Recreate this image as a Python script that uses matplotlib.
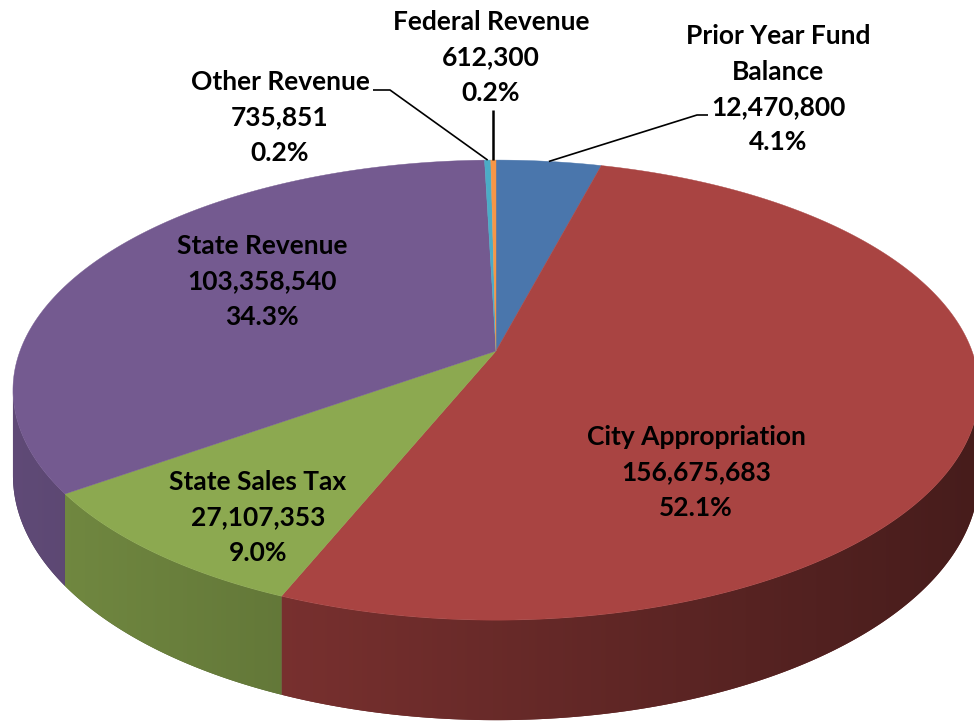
import numpy as np
import matplotlib
matplotlib.use("Agg")
import matplotlib.pyplot as plt
from matplotlib.patches import Polygon
from matplotlib import colors as mcolors

# ---------------- data ----------------
categories = ["Prior Year Fund Balance", "City Appropriation", "State Sales Tax",
              "State Revenue", "Other Revenue", "Federal Revenue"]
label_lines = [["Prior Year Fund", "Balance"], ["City Appropriation"], ["State Sales Tax"],
               ["State Revenue"], ["Other Revenue"], ["Federal Revenue"]]
values = [12470800, 156675683, 27107353, 103358540, 735851, 612300]
top_colors = ["#4A76AC", "#A94442", "#8CA950", "#745A90", "#4BACC6", "#F79646"]

# ---------------- layout ----------------
W, H = 974, 726
fig = plt.figure(figsize=(W / 100, H / 100), dpi=100)
ax = fig.add_axes([0, 0, 1, 1])

CX, CY, A, B, P, D = 496, 351, 476, 223.4, 0.17, 83


def proj(theta, down=0.0):
    u = np.sin(theta)
    v = np.cos(theta)
    k = 1.0 / (1.0 + P * v)
    return CX + A * u * k, CY - B * v * k + down * D * k


total = float(sum(values))
fracs = np.array(values) / total
cum = np.concatenate([[0.0], np.cumsum(fracs)])
starts = 2 * np.pi * cum[:-1]
ends = 2 * np.pi * cum[1:]
mids = (starts + ends) / 2
n = len(values)

vis_lo = np.arccos(-P)
vis_hi = 2 * np.pi - vis_lo

# side walls with smooth horizontal gradient
for i in range(n):
    lo = max(starts[i], vis_lo)
    hi = min(ends[i], vis_hi)
    if hi <= lo:
        continue
    ts = np.linspace(lo, hi, 200)
    xt, yt = proj(ts)
    xb, yb = proj(ts[::-1], 1)
    pts = np.column_stack([np.concatenate([xt, xb]), np.concatenate([yt, yb])])
    base = np.array(mcolors.to_rgb(top_colors[i]))
    clip = Polygon(pts, closed=True, facecolor=base * 0.6, edgecolor="none", lw=0)
    ax.add_patch(clip)
    x0, x1 = pts[:, 0].min() - 1, pts[:, 0].max() + 1
    y0, y1 = pts[:, 1].min() - 1, pts[:, 1].max() + 1
    xs = np.linspace(x0, x1, 300)
    u = np.clip((xs - CX) / A, -1, 1)
    f = 0.62 - 0.2 * u
    img = np.clip(base[None, None, :] * f[None, :, None], 0, 1)
    im = ax.imshow(img, extent=[x0, x1, y1, y0], aspect="auto", interpolation="bilinear", zorder=1)
    im.set_clip_path(clip)

# top faces
for i in range(n):
    npts = max(3, int((ends[i] - starts[i]) / np.radians(0.3)))
    ts = np.linspace(starts[i], ends[i], npts)
    xs, ys = proj(ts)
    poly = [[CX, CY]] + list(zip(xs, ys))
    ax.add_patch(Polygon(poly, closed=True, facecolor=top_colors[i],
                         edgecolor=top_colors[i], lw=0.3, zorder=2))

ax.set_xlim(0, W)
ax.set_ylim(H, 0)
ax.axis("off")

# ---------------- labels ----------------
font = dict(family=["Lato", "DejaVu Sans"], fontweight="bold", fontsize=19, color="black")
label_pos = {  # center x, first-line center y
    0: (778, 36),
    1: (696, 437),
    2: (258, 482),
    3: (262, 246),
    4: (280, 82),
    5: (491, 22),
}
LS = 35.5
for i in range(n):
    lines = label_lines[i] + [f"{values[i]:,}", f"{100 * fracs[i]:.1f}%"]
    x0, y0 = label_pos[i]
    for j, t in enumerate(lines):
        ax.text(x0, y0 + j * LS, t, ha="center", va="center", zorder=5, **font)

# leader lines
px, py = proj(mids[0])
ax.plot([px, 697, 708], [py, 115, 115], color="black", lw=1.2, solid_capstyle="butt", zorder=4)
px, py = proj(mids[4])
ax.plot([373, 390, px], [90, 90, py], color="black", lw=1.2, solid_capstyle="butt", zorder=4)
px, py = proj(mids[5])
ax.plot([px, px], [110, py], color="black", lw=1.8, solid_capstyle="butt", zorder=4)

fig.savefig("out.png", dpi=100, facecolor="white")
